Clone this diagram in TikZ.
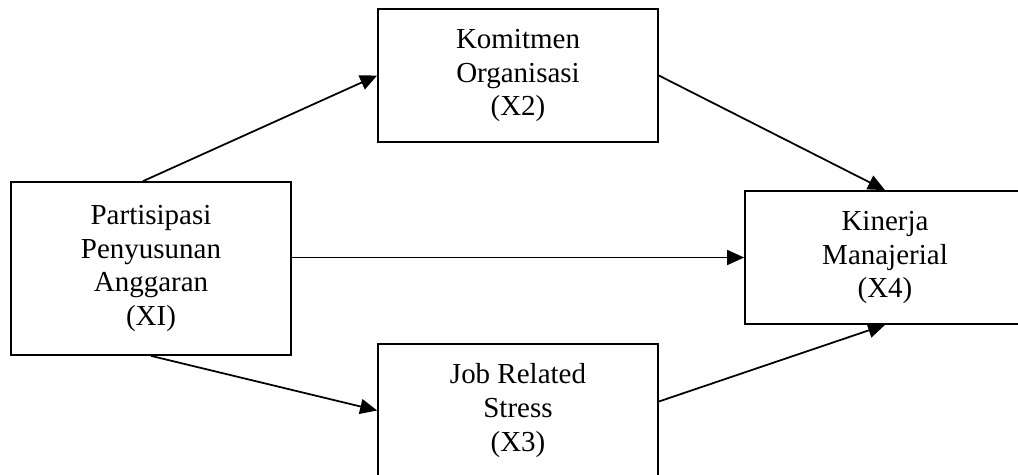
\documentclass[tikz,border=0pt]{standalone}
\usepackage{fontspec}
\setmainfont{Liberation Serif}
\usetikzlibrary{arrows.meta}
\begin{document}
\begin{tikzpicture}
[
    x=0.02cm, y=-0.02cm,
    var/.style={draw, line width=1pt, align=center, minimum width=5.6cm,
        minimum height=2.66cm, inner sep=0pt,
        font=\fontsize{16.5}{19.3}\selectfont},
    link/.style={line width=1pt, -{Triangle[length=0.34cm, width=0.3cm]}},
]
\useasboundingbox (0,0) rectangle (1018,474);
\node[var, minimum height=3.46cm] (x1) at (151,268.5) {Partisipasi\\ Penyusunan\\ Anggaran\\ (XI)};
\node[var] (x2) at (518,75.5) {Komitmen\\ Organisasi\\ (X2)};
\node[var] (x3) at (518,410.5) {Job Related\\ Stress\\ (X3)};
\node[var] (x4) at (885,257.5) {Kinerja\\ Manajerial\\ (X4)};
\draw[link] ([xshift=-0.16cm]x1.north) -- (x2.west);
\draw[link] (x1.east |- x4.west) -- (x4.west);
\draw[link] (x1.south) -- (x3.west);
\draw[link] (x2.east) -- (x4.north);
\draw[link] ([yshift=0.18cm]x3.east) -- (x4.south);
\end{tikzpicture}
\end{document}
